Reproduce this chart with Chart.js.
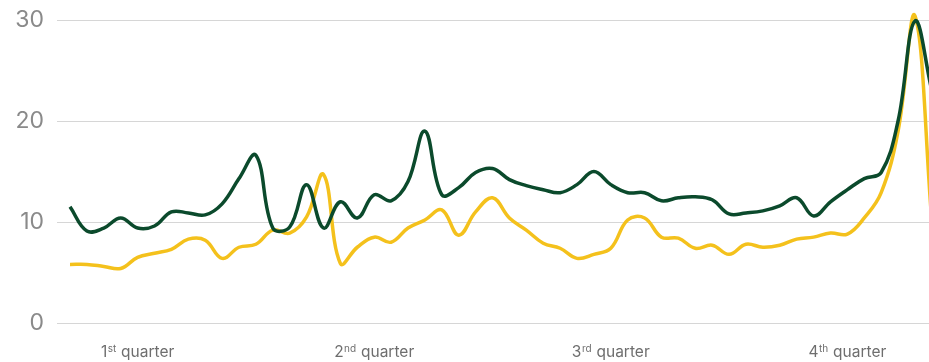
<!DOCTYPE html>
<html>
<head>
<meta charset="utf-8">
<script src="https://cdn.jsdelivr.net/npm/chart.js@4/dist/chart.umd.min.js"></script>
<style>
  html, body { margin: 0; padding: 0; background: #fff; }
  #wrap { width: 929px; height: 362px; }
</style>
</head>
<body>
<div id="wrap"><canvas id="chart"></canvas></div>
<script>
// weekly values, 52 weeks
const weeks = Array.from({ length: 52 }, (_, i) => i);

const greenValues = [
  11.5, 9.1, 9.4, 10.4, 9.4, 9.6, 11.0, 10.9, 10.7, 11.8,
  14.3, 16.6, 9.4, 9.5, 13.7, 9.4, 12.0, 10.4, 12.7, 12.1,
  14.0, 19.0, 12.7, 13.4, 14.9, 15.3, 14.2, 13.6, 13.2, 12.9,
  13.7, 15.0, 13.7, 12.9, 12.9, 12.1, 12.4, 12.5, 12.2, 10.8,
  10.9, 11.1, 11.6, 12.4, 10.6, 12.0, 13.2, 14.3, 14.9, 20.0,
  29.9, 23.0
];

const yellowValues = [
  5.8, 5.8, 5.6, 5.4, 6.5, 6.9, 7.3, 8.3, 8.2, 6.4,
  7.5, 7.8, 9.2, 8.9, 10.5, 14.7, 5.9, 7.5, 8.5, 8.0,
  9.4, 10.2, 11.2, 8.7, 11.0, 12.4, 10.4, 9.2, 7.9, 7.4,
  6.4, 6.8, 7.4, 10.2, 10.4, 8.5, 8.4, 7.4, 7.7, 6.8,
  7.8, 7.5, 7.7, 8.3, 8.5, 8.9, 8.8, 10.4, 12.9, 19.0,
  30.4, 10.0
];

// quarter labels sit under these weeks
const quarterWeeks = [4, 18, 32, 46];
const quarterNums = ['1', '2', '3', '4'];
const quarterSuffix = ['st', 'nd', 'rd', 'th'];

const GREEN = '#0b4a2c';
const YELLOW = '#f4c11c';
const FONT = 'Inter, "Noto Sans", sans-serif';

// draws "1st quarter" with a raised suffix under each quarter tick
const quarterLabels = {
  id: 'quarterLabels',
  afterDraw(chart) {
    const ctx = chart.ctx;
    const xs = chart.scales.x;
    const y = chart.chartArea.bottom + 34;
    ctx.save();
    ctx.fillStyle = '#6e6e6e';
    ctx.textBaseline = 'alphabetic';
    ctx.textAlign = 'left';
    quarterWeeks.forEach((w, i) => {
      const big = '15.5px ' + FONT;
      const small = '10px ' + FONT;
      ctx.font = big;
      const wNum = ctx.measureText(quarterNums[i]).width;
      const wRest = ctx.measureText(' quarter').width;
      ctx.font = small;
      const wSuf = ctx.measureText(quarterSuffix[i]).width + 1;
      const total = wNum + wSuf + wRest;
      let x = xs.getPixelForValue(w) - total / 2;
      ctx.font = big;
      ctx.fillText(quarterNums[i], x, y);
      x += wNum;
      ctx.font = small;
      ctx.fillText(quarterSuffix[i], x + 0.5, y - 5);
      x += wSuf;
      ctx.font = big;
      ctx.fillText(' quarter', x, y);
    });
    ctx.restore();
  }
};

new Chart(document.getElementById('chart'), {
  type: 'line',
  data: {
    datasets: [
      {
        label: 'Green',
        data: weeks.map((w, i) => ({ x: w, y: greenValues[i] })),
        borderColor: GREEN,
        borderWidth: 3.5,
        pointRadius: 0,
        tension: 0.4,
        clip: false,
        order: 1
      },
      {
        label: 'Yellow',
        data: weeks.map((w, i) => ({ x: w, y: yellowValues[i] })),
        borderColor: YELLOW,
        borderWidth: 3.5,
        pointRadius: 0,
        tension: 0.4,
        clip: false,
        order: 2
      }
    ]
  },
  options: {
    responsive: true,
    maintainAspectRatio: false,
    animation: false,
    layout: { padding: { top: 20, left: 0, right: 0, bottom: 0 } },
    plugins: {
      legend: { display: false },
      tooltip: { enabled: false }
    },
    scales: {
      x: {
        type: 'linear',
        min: -0.77,
        max: 50.83,
        grid: { display: false },
        border: { display: false },
        afterBuildTicks(scale) {
          scale.ticks = quarterWeeks.map(v => ({ value: v }));
        },
        afterFit(scale) {
          scale.height = 39;
          scale.paddingLeft = 0;
          scale.paddingRight = 0;
        },
        ticks: {
          color: 'rgba(0,0,0,0)',
          padding: 20,
          font: { family: FONT, size: 15 },
          callback: () => 'quarter'
        }
      },
      y: {
        min: 0,
        max: 30,
        afterFit(scale) {
          scale.width = 57;
          scale.paddingTop = 0;
          scale.paddingBottom = 0;
        },
        grid: { color: '#d6d6d6', lineWidth: 1, drawTicks: false },
        border: { display: false },
        ticks: {
          stepSize: 10,
          padding: 13,
          color: '#8a8a8a',
          font: { family: FONT, size: 23 }
        }
      }
    }
  },
  plugins: [quarterLabels]
});
</script>
</body>
</html>
